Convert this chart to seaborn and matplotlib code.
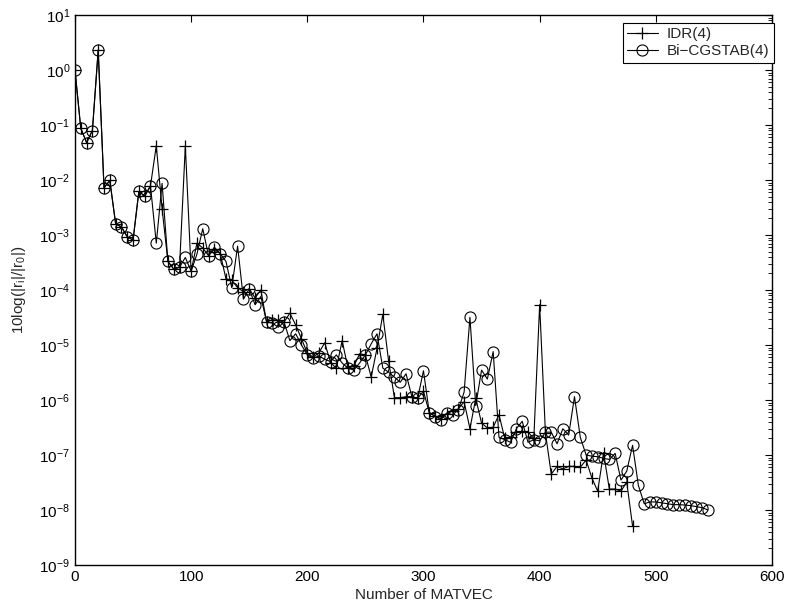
import numpy as np
import pandas as pd
import matplotlib
matplotlib.use("Agg")
import matplotlib.pyplot as plt
import matplotlib.ticker as mticker
import seaborn as sns


# MATVEC counts (one residual every 5 MATVECs)
idr_matvec = np.arange(0, 485, 5)
bicg_matvec = np.arange(0, 550, 5)

# relative residual norms
idr_res = [
    1.0e0, 8.7e-2, 4.8e-2, 7.9e-2, 2.3e0, 7.2e-3, 9.8e-3, 1.6e-3, 1.4e-3, 9.3e-4,
    8.1e-4, 6.2e-3, 5.1e-3, 7.8e-3, 4.2e-2, 3.0e-3, 3.3e-4, 2.4e-4, 2.6e-4, 4.2e-2,
    2.2e-4, 7.1e-4, 5.8e-4, 4.2e-4, 5.5e-4, 4.6e-4, 1.6e-4, 1.5e-4, 1.1e-4, 9.3e-5,
    1.05e-4, 7.2e-5, 1.0e-4, 2.6e-5, 2.9e-5, 2.8e-5, 2.6e-5, 3.8e-5, 2.3e-5, 1.3e-5,
    7.1e-6, 6.0e-6, 7.2e-6, 1.1e-5, 4.8e-6, 3.8e-6, 1.2e-5, 3.8e-6, 4.1e-6, 6.9e-6,
    6.6e-6, 2.6e-6, 8.7e-6, 3.6e-5, 5.1e-6, 1.1e-6, 1.1e-6, 1.15e-6, 1.15e-6, 1.07e-6,
    1.45e-6, 5.9e-7, 5.1e-7, 4.6e-7, 5.6e-7, 6.3e-7, 6.9e-7, 9.3e-7, 3.0e-7, 1.07e-6,
    3.8e-7, 3.1e-7, 3.2e-7, 5.4e-7, 2.0e-7, 2.1e-7, 2.6e-7, 2.7e-7, 2.6e-7, 2.0e-7,
    5.4e-5, 2.5e-7, 4.5e-8, 6.2e-8, 5.6e-8, 6.2e-8, 6.2e-8, 6.0e-8, 8.1e-8, 3.8e-8,
    2.2e-8, 1.1e-7, 2.4e-8, 2.4e-8, 2.2e-8, 3.2e-8, 5.1e-9,
]

bicg_res = [
    1.0e0, 8.7e-2, 4.8e-2, 7.9e-2, 2.3e0, 7.2e-3, 9.8e-3, 1.6e-3, 1.4e-3, 9.3e-4,
    8.1e-4, 6.2e-3, 5.1e-3, 7.8e-3, 7.1e-4, 8.7e-3, 3.3e-4, 2.4e-4, 2.6e-4, 3.9e-4,
    2.2e-4, 4.5e-4, 1.3e-3, 4.2e-4, 6.0e-4, 4.6e-4, 3.3e-4, 1.1e-4, 6.3e-4, 6.8e-5,
    1.05e-4, 5.4e-5, 7.6e-5, 2.6e-5, 2.5e-5, 2.1e-5, 2.6e-5, 1.2e-5, 1.6e-5, 1.0e-5,
    6.6e-6, 5.8e-6, 6.3e-6, 5.5e-6, 5.0e-6, 6.6e-6, 4.7e-6, 3.8e-6, 3.5e-6, 4.7e-6,
    6.6e-6, 1.05e-5, 1.6e-5, 3.8e-6, 3.2e-6, 2.6e-6, 2.1e-6, 3.0e-6, 1.15e-6, 1.07e-6,
    3.4e-6, 5.9e-7, 5.0e-7, 4.4e-7, 5.8e-7, 5.4e-7, 6.6e-7, 1.4e-6, 3.2e-5, 7.9e-7,
    3.5e-6, 2.4e-6, 7.6e-6, 2.1e-7, 1.9e-7, 1.7e-7, 3.0e-7, 4.1e-7, 1.7e-7, 1.9e-7,
    1.8e-7, 2.6e-7, 2.6e-7, 1.6e-7, 3.0e-7, 2.3e-7, 1.15e-6, 2.1e-7, 1.0e-7, 9.5e-8,
    9.3e-8, 8.7e-8, 8.3e-8, 1.07e-7, 3.5e-8, 5.1e-8, 1.5e-7, 2.8e-8, 1.3e-8, 1.4e-8,
    1.4e-8, 1.35e-8, 1.3e-8, 1.25e-8, 1.25e-8, 1.23e-8, 1.2e-8, 1.15e-8, 1.1e-8, 1.0e-8,
]

x_ticks = [0, 100, 200, 300, 400, 500, 600]

idr = pd.DataFrame({"matvec": idr_matvec, "res": idr_res})
bicg = pd.DataFrame({"matvec": bicg_matvec, "res": bicg_res})


sns.set_style("white")
plt.rcParams["font.family"] = ["Liberation Sans", "DejaVu Sans"]
plt.rcParams["mathtext.fontset"] = "custom"
plt.rcParams["mathtext.rm"] = "Liberation Sans"
plt.rcParams["mathtext.it"] = "Liberation Sans"
plt.rcParams["mathtext.default"] = "regular"

fig = plt.figure(figsize=(7.85, 6.1), dpi=100)
ax = fig.add_axes([0.0955, 0.0738, 0.8879, 0.9016])

sns.lineplot(data=idr, x="matvec", y="res", ax=ax, color="black", lw=0.8,
             marker="+", markersize=8, mec="black", mew=0.9, label="IDR(4)")
sns.lineplot(data=bicg, x="matvec", y="res", ax=ax, color="black", lw=0.8,
             marker="o", markersize=8, mfc="none", mec="black", mew=0.8,
             label="Bi\u2212CGSTAB(4)")

ax.set_yscale("log")
ax.set_xlim(0, 600)
ax.set_ylim(1e-9, 1e1)
ax.set_xticks(x_ticks)
ax.yaxis.set_major_locator(mticker.LogLocator(base=10, numticks=20))
ax.yaxis.set_minor_locator(mticker.LogLocator(base=10, subs=np.arange(2, 10), numticks=20))
ax.yaxis.set_minor_formatter(mticker.NullFormatter())

ax.tick_params(which="both", direction="in", top=True, right=True,
               labelsize=11, colors="black")
ax.tick_params(which="major", length=5, width=0.8)
ax.tick_params(which="minor", length=3, width=0.6)
for s in ax.spines.values():
    s.set_color("black")
    s.set_linewidth(1.0)

ax.set_xlabel("Number of MATVEC", fontsize=11, labelpad=3)
ax.set_ylabel(r"10log(|r$_i$|/|r$_0$|)", fontsize=11, labelpad=8)

leg = ax.legend(loc="upper right", bbox_to_anchor=(1.003, 0.986), borderaxespad=0,
                fancybox=False, edgecolor="black", framealpha=1, fontsize=11,
                handlelength=2.0, handletextpad=0.6, borderpad=0.3, labelspacing=0.2)
leg.get_frame().set_linewidth(0.8)

fig.savefig("out.png", dpi=100)
